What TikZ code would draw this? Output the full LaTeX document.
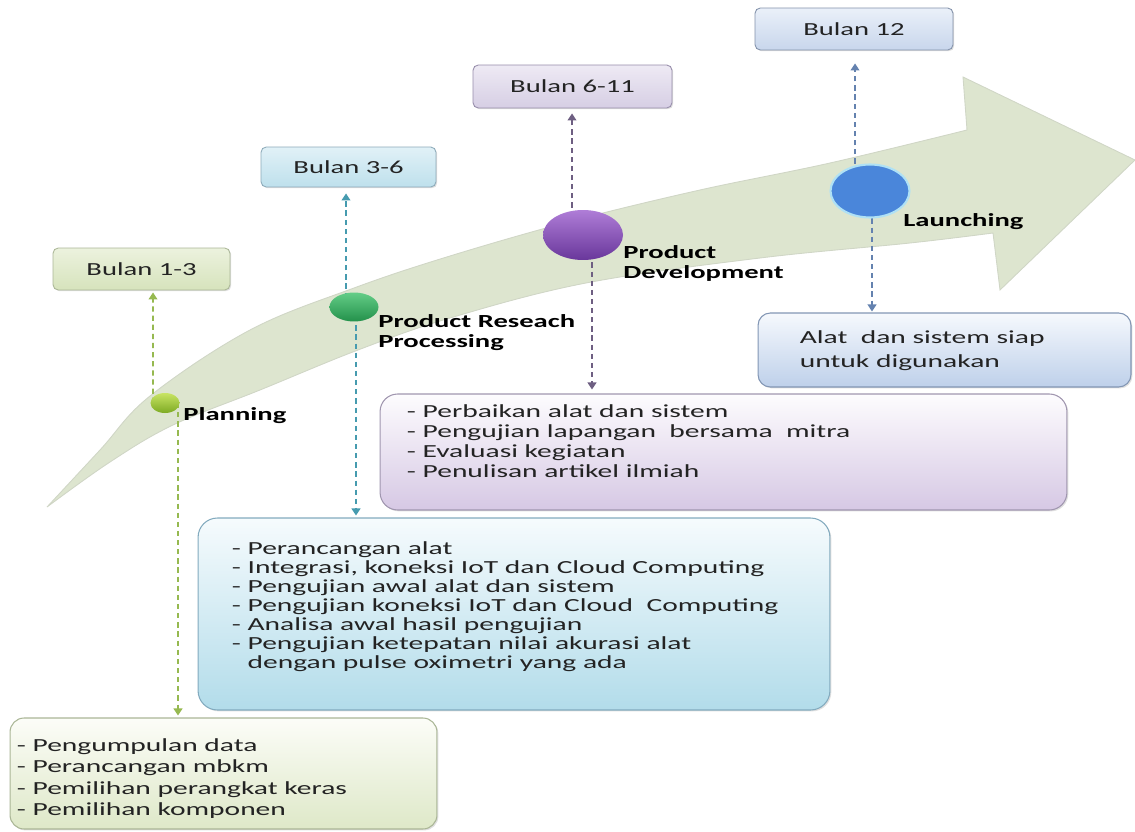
\documentclass[tikz,border=0pt]{standalone}
\usepackage{fontspec}
\setmainfont{Carlito}
\newfontfamily\stretchf[FakeStretch=1.55]{Carlito}
\newfontfamily\bodystretchf[FakeStretch=1.6]{Carlito}
\usetikzlibrary{arrows.meta,shapes.geometric,calc,shadows}
\pgfdeclarelayer{bandlayer}
\pgfdeclarelayer{connlayer}
\pgfsetlayers{bandlayer,connlayer,main}
\definecolor{bandc}{RGB}{221,229,207}
\definecolor{bandedge}{RGB}{208,214,198}
\definecolor{arrG}{RGB}{150,185,80}
\definecolor{arrT}{RGB}{70,155,175}
\definecolor{arrP}{RGB}{110,95,130}
\definecolor{arrB}{RGB}{100,130,175}
\definecolor{b13top}{RGB}{236,242,222}
\definecolor{b13bot}{RGB}{214,227,188}
\definecolor{b13edge}{RGB}{170,182,150}
\definecolor{b36top}{RGB}{225,241,247}
\definecolor{b36bot}{RGB}{190,224,236}
\definecolor{b36edge}{RGB}{140,170,185}
\definecolor{b611top}{RGB}{238,234,244}
\definecolor{b611bot}{RGB}{214,206,228}
\definecolor{b611edge}{RGB}{150,140,170}
\definecolor{b12top}{RGB}{234,240,249}
\definecolor{b12bot}{RGB}{200,214,236}
\definecolor{b12edge}{RGB}{130,145,170}
\definecolor{pbtop}{RGB}{252,253,248}
\definecolor{pbbot}{RGB}{222,232,200}
\definecolor{pbedge}{RGB}{170,182,150}
\definecolor{rbtop}{RGB}{246,251,253}
\definecolor{rbbot}{RGB}{178,220,234}
\definecolor{rbedge}{RGB}{130,170,190}
\definecolor{dbtop}{RGB}{253,252,254}
\definecolor{dbbot}{RGB}{214,200,228}
\definecolor{dbedge}{RGB}{160,150,175}
\definecolor{lbtop}{RGB}{246,249,253}
\definecolor{lbbot}{RGB}{190,208,234}
\definecolor{lbedge}{RGB}{130,150,180}
\definecolor{gTop}{RGB}{200,228,100}
\definecolor{gBot}{RGB}{125,170,35}
\definecolor{rTop}{RGB}{100,205,135}
\definecolor{rBot}{RGB}{35,145,75}
\definecolor{dTop}{RGB}{175,125,215}
\definecolor{dBot}{RGB}{105,55,155}
\definecolor{launchfill}{RGB}{74,134,218}
\definecolor{launchedge}{RGB}{175,225,245}
\definecolor{txt}{RGB}{35,35,35}
\begin{document}
\begin{tikzpicture}[x=0.02cm,y=-0.02cm,
  dasharr/.style={dash pattern=on 3pt off 2.2pt, line width=0.9pt, -{Triangle[width=5pt,length=4pt]}},
  bulan/.style={draw=#1, rounded corners=3pt, line width=0.5pt, inner sep=0pt,
    font=\stretchf\fontsize{10.5pt}{12pt}\selectfont, text=txt,
    drop shadow={shadow xshift=0.7pt,shadow yshift=-0.7pt,opacity=0.25}},
  bigbox/.style={draw=#1, line width=0.6pt, inner sep=0pt,
    drop shadow={shadow xshift=0.8pt,shadow yshift=-0.8pt,opacity=0.25}},
  body/.style={font=\bodystretchf\fontsize{10.5pt}{#1}\selectfont, align=left, inner sep=0pt, text=txt, anchor=base west},
  lab/.style={font=\stretchf\bfseries\fontsize{10.5pt}{11.3pt}\selectfont, align=left, inner sep=0pt, text=black, anchor=base west},
  dot/.style={ellipse, inner sep=0pt}
]
\useasboundingbox (0,0) rectangle (1135,831);

% curved arrow band
\begin{pgfonlayer}{bandlayer}
\filldraw[fill=bandc, draw=bandedge, line width=0.5pt]
  plot[smooth, tension=0.6] coordinates {(47,507) (100,450) (150,396) (250,330) (354,288) (450,256) (572,221) (700,190) (830,163) (967,130)}
  -- (963,77) -- (1135,160) -- (1000,290) -- (993,233)
  -- plot[smooth, tension=0.6] coordinates {(993,233) (910,243) (760,258) (586,283) (450,318) (358,350) (260,390) (173,425) (110,462) (47,507)}
  -- cycle;
\end{pgfonlayer}

% month boxes
\node[bulan=b13edge, top color=b13top, bottom color=b13bot, minimum width=3.54cm, minimum height=0.84cm] (b13) at (141.5,269) {Bulan 1-3};
\node[bulan=b36edge, top color=b36top, bottom color=b36bot, minimum width=3.5cm, minimum height=0.8cm] (b36) at (348.5,167) {Bulan 3-6};
\node[bulan=b611edge, top color=b611top, bottom color=b611bot, minimum width=3.98cm, minimum height=0.86cm] (b611) at (572.5,86.5) {Bulan 6-11};
\node[bulan=b12edge, top color=b12top, bottom color=b12bot, minimum width=3.96cm, minimum height=0.84cm] (b12) at (854,29) {Bulan 12};

% stage dots
\node[dot, top color=gTop, bottom color=gBot, minimum width=0.58cm, minimum height=0.4cm] (pc) at (165,403) {};
\node[dot, top color=rTop, bottom color=rBot, minimum width=0.98cm, minimum height=0.58cm] (rc) at (354,307) {};
\node[dot, top color=dTop, bottom color=dBot, minimum width=1.6cm, minimum height=1.0cm] (dc) at (583,235) {};
\node[dot, fill=launchfill, draw=launchedge, line width=1.2pt, minimum width=1.58cm, minimum height=1.06cm] (lc) at (870,191) {};

% stage labels
\node[lab] (lpl) at (183,420) {Planning};
\node[lab] (lrc) at (378,347) {Product Reseach\\Processing};
\node[lab] (ldc) at (623,278) {Product\\Development};
\node[lab] (llc) at (903,227) {Launching};

% activity boxes
\node[bigbox=pbedge, top color=pbtop, bottom color=pbbot, rounded corners=8pt, minimum width=8.54cm, minimum height=2.22cm] (pb) at (223.5,773.5) {};
\node[bigbox=rbedge, top color=rbtop, bottom color=rbbot, rounded corners=11pt, minimum width=12.64cm, minimum height=3.84cm] (rb) at (514,614) {};
\node[bigbox=dbedge, top color=dbtop, bottom color=dbbot, rounded corners=10pt, minimum width=13.74cm, minimum height=2.32cm] (db) at (723.5,452) {};
\node[bigbox=lbedge, top color=lbtop, bottom color=lbbot, rounded corners=7pt, minimum width=7.46cm, minimum height=1.48cm] (lb) at (944.5,350) {};

\node[body=12.2pt] (pbt) at ($(pb.north west)+(7,98)$) {- Pengumpulan data\\- Perancangan mbkm\\- Pemilihan perangkat keras\\- Pemilihan komponen};
\node[body=10.8pt] (rbt) at ($(rb.north west)+(34,151)$) {- Perancangan alat\\- Integrasi, koneksi IoT dan Cloud Computing\\- Pengujian awal alat dan sistem\\- Pengujian koneksi IoT dan Cloud\ \ Computing\\- Analisa awal hasil pengujian\\- Pengujian ketepatan nilai akurasi alat\\\phantom{- }dengan pulse oximetri yang ada};
\node[body=11.3pt] (dbt) at ($(db.north west)+(27,84)$) {- Perbaikan alat dan sistem\\- Pengujian lapangan\ \ bersama\ \ mitra\\- Evaluasi kegiatan\\- Penulisan artikel ilmiah};
\node[body=13.6pt] (lbt) at ($(lb.north west)+(42,55)$) {Alat\ \ dan sistem siap\\untuk digunakan};

% dashed connectors
\begin{pgfonlayer}{connlayer}
\draw[dasharr, draw=arrG] ($(pc.center)+(-12,0)$) -- ($(b13.south)+(11.5,2)$);
\draw[dasharr, draw=arrG] ($(pc.center)+(13,0)$) -- ($(pb.north)+(-45.5,-2)$);
\draw[dasharr, draw=arrT] ($(rc.center)+(-8,0)$) -- ($(b36.south)+(-2.5,6)$);
\draw[dasharr, draw=arrT] ($(rc.center)+(2,0)$) -- ($(rb.north)+(-158,-2)$);
\draw[dasharr, draw=arrP] ($(dc.center)+(-11,0)$) -- ($(b611.south)+(-0.5,5)$);
\draw[dasharr, draw=arrP] ($(dc.center)+(9,0)$) -- ($(db.north)+(-131.5,-4)$);
\draw[dasharr, draw=arrB] ($(lc.center)+(-15,0)$) -- ($(b12.south)+(1,13)$);
\draw[dasharr, draw=arrB] ($(lc.center)+(2,0)$) -- ($(lb.north)+(-72.5,-1)$);
\end{pgfonlayer}
\end{tikzpicture}
\end{document}
